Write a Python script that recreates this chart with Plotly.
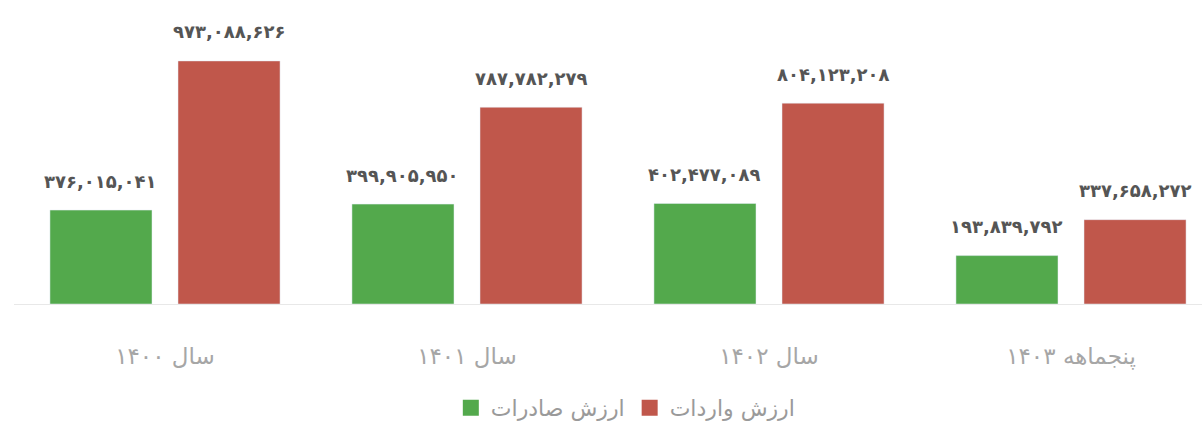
import plotly.graph_objects as go

categories = ["سال ۱۴۰۰", "سال ۱۴۰۱", "سال ۱۴۰۲", "پنجماهه ۱۴۰۳"]
exports = [376015041, 399905950, 402477089, 193839792]
imports = [973088626, 787782279, 804123208, 337658272]
series_names = ["ارزش صادرات", "ارزش واردات"]

GREEN = "#53a94c"
RED = "#c0574b"
BARGAP = 0.152

FA_DIGITS = str.maketrans("0123456789", "۰۱۲۳۴۵۶۷۸۹")


def fa_num(v):
    return f"{v:,}".translate(FA_DIGITS)


fig = go.Figure()
for name, vals, color in [(series_names[0], exports, GREEN), (series_names[1], imports, RED)]:
    fig.add_trace(go.Bar(
        x=categories,
        y=vals,
        name=name,
        marker_color=color,
        showlegend=False,
    ))
    # legend entry with a bigger square symbol
    fig.add_trace(go.Scatter(
        x=[None], y=[None],
        mode="markers",
        name=name,
        marker=dict(symbol="square", size=18, color=color),
    ))

# value labels above each bar
offset = (1 - BARGAP) / 4
annotations = []
for i in range(len(categories)):
    for vals, dx in [(exports, -offset), (imports, offset)]:
        annotations.append(dict(
            x=i + dx, y=vals[i], xref="x", yref="y",
            text=fa_num(vals[i]),
            showarrow=False, yanchor="middle", yshift=29,
            font=dict(family="DejaVu Sans", size=18, color="#555555", weight="bold"),
        ))

fig.update_layout(
    width=1202, height=421,
    barmode="group",
    bargap=BARGAP,
    bargroupgap=0.203,
    plot_bgcolor="white",
    paper_bgcolor="white",
    margin=dict(l=14, r=0, t=10, b=117),
    annotations=annotations,
    showlegend=True,
    legend=dict(
        orientation="h",
        xanchor="center", x=0.515,
        yref="container", yanchor="middle", y=0.031,
        font=dict(family="DejaVu Sans", size=22, color="#9a9a9a"),
        itemwidth=30,
    ),
    xaxis=dict(
        range=[-0.5, -0.5 + 1188 / 302],
        showline=True, linecolor="#e8e8e8", linewidth=1,
        showgrid=False, ticks="",
        ticklabelstandoff=31,
        tickfont=dict(family="DejaVu Sans", size=23, color="#a6a6a6"),
    ),
    yaxis=dict(
        range=[0, 1177e6],
        visible=False,
    ),
)

fig.write_html(
    "out.html",
    config={"displayModeBar": False},
    post_script="document.body.style.margin='0';document.body.style.overflow='hidden';",
)
